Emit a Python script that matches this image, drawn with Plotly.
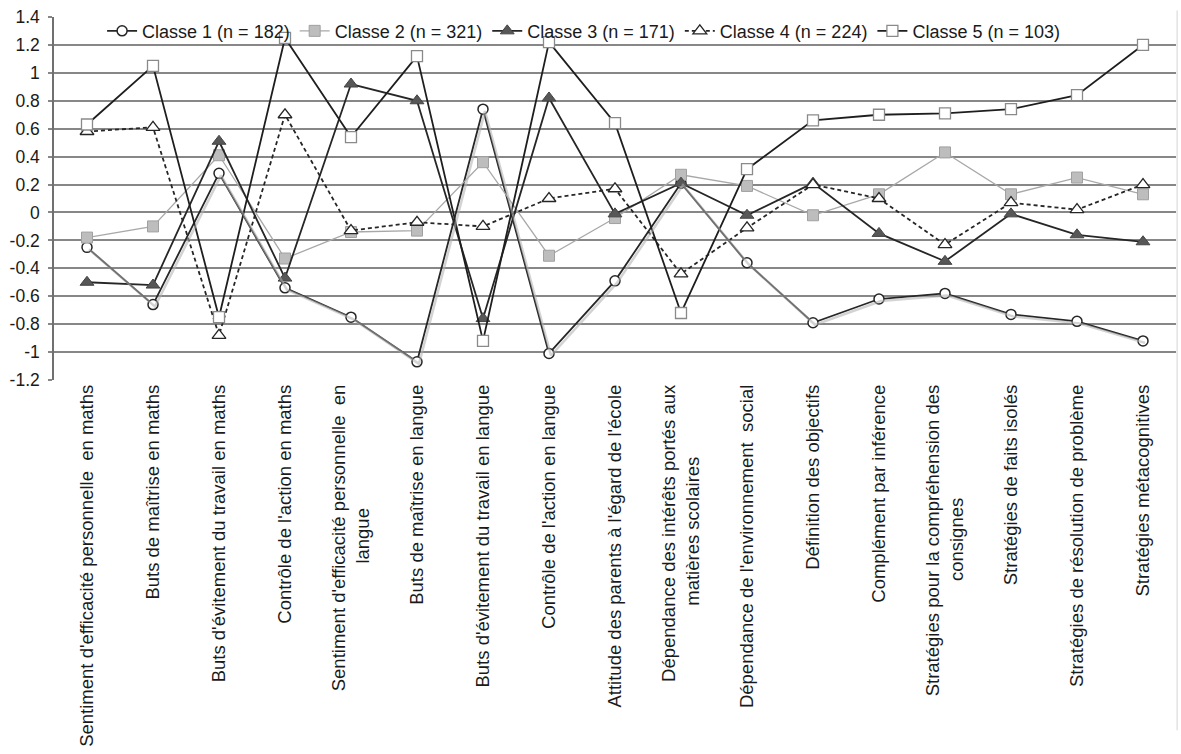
import plotly.graph_objects as go

NB = "\u00a0"

# Profils des classes latentes sur les 17 indicateurs (scores standardisés)
categories = [
    "Sentiment d'efficacité personnelle " + NB + "en maths",
    "Buts de maîtrise en maths",
    "Buts d'évitement du travail en maths",
    "Contrôle de l'action en maths",
    "Sentiment d'efficacité personnelle " + NB + "en<br>langue" + NB * 24,
    "Buts de maîtrise en langue",
    "Buts d'évitement du travail en langue",
    "Contrôle de l'action en langue",
    "Attitude des parents à l'égard de l'école",
    "Dépendance des intérêts portés aux<br>matières scolaires" + NB * 14,
    "Dépendance de l'environnement " + NB + "social",
    "Définition des objectifs",
    "Complément par inférence",
    "Stratégies pour la compréhension des<br>consignes" + NB * 22,
    "Stratégies de faits isolés",
    "Stratégies de résolution de problème",
    "Stratégies métacognitives",
]

classe1 = [-0.25, -0.66, 0.28, -0.54, -0.75, -1.07, 0.74, -1.01, -0.49, 0.21, -0.36,
           -0.79, -0.62, -0.58, -0.73, -0.78, -0.92]
classe2 = [-0.18, -0.10, 0.41, -0.33, -0.14, -0.13, 0.36, -0.31, -0.04, 0.27, 0.19,
           -0.02, 0.13, 0.43, 0.13, 0.25, 0.13]
classe3 = [-0.50, -0.52, 0.51, -0.47, 0.92, 0.80, -0.76, 0.82, -0.01, 0.21, -0.02,
           0.21, -0.15, -0.35, -0.01, -0.16, -0.21]
classe4 = [0.58, 0.61, -0.88, 0.70, -0.13, -0.07, -0.10, 0.10, 0.17, -0.44, -0.11,
           0.20, 0.10, -0.23, 0.07, 0.02, 0.20]
classe5 = [0.63, 1.05, -0.75, 1.25, 0.54, 1.12, -0.92, 1.22, 0.64, -0.72, 0.31,
           0.66, 0.70, 0.71, 0.74, 0.84, 1.20]

series_names = ["Classe 1 (n = 182)", "Classe 2 (n = 321)", "Classe 3 (n = 171)",
                "Classe 4 (n = 224)", "Classe 5 (n = 103)"]

y_ticks = [1.4, 1.2, 1, 0.8, 0.6, 0.4, 0.2, 0, -0.2, -0.4, -0.6, -0.8, -1, -1.2]

FONT = "Liberation Sans, Arial, sans-serif"
W, H = 1181, 754
ML, MR, MT, MB = 54, 5, 17, 374
n_cat = len(categories)
x_idx = list(range(n_cat))
X_RANGE = [-0.5, n_cat - 0.5]
Y_RANGE = [-1.2, 1.4]

# shadow offset of 2px expressed in axis units
px_x = (X_RANGE[1] - X_RANGE[0]) / (W - ML - MR)
px_y = (Y_RANGE[1] - Y_RANGE[0]) / (H - MT - MB)

fig = go.Figure()

# soft drop shadow under the Classe 1 line
fig.add_trace(go.Scatter(
    x=x_idx, y=classe1, xaxis="x2", yaxis="y2", mode="lines",
    line=dict(color="rgba(175,175,175,0.55)", width=2.5),
    showlegend=False, hoverinfo="skip"))

styles = [
    dict(line=dict(color="#262626", width=1.8),
         marker=dict(symbol="circle", size=10, color="white",
                     line=dict(color="#262626", width=1.5))),
    dict(line=dict(color="#a8a8a8", width=1.3),
         marker=dict(symbol="square", size=11, color="#bdbdbd",
                     line=dict(color="#a0a0a0", width=1))),
    dict(line=dict(color="#262626", width=1.8),
         marker=dict(symbol="triangle-up", size=12, color="#575757",
                     line=dict(color="#444444", width=1))),
    dict(line=dict(color="#262626", width=1.8, dash="4px,3px"),
         marker=dict(symbol="triangle-up", size=12, color="white",
                     line=dict(color="#262626", width=1.3))),
    dict(line=dict(color="#1e1e1e", width=1.8),
         marker=dict(symbol="square", size=11, color="white",
                     line=dict(color="#8a8a8a", width=1.3))),
]

for name, vals, st in zip(series_names, [classe1, classe2, classe3, classe4, classe5], styles):
    fig.add_trace(go.Scatter(x=x_idx, y=vals, name=name, mode="lines+markers",
                             line=st["line"], marker=st["marker"]))

# light frame edge at the right of the chart area
fig.add_shape(type="line", xref="paper", yref="paper", x0=1.001, x1=1.001,
              y0=1.018, y1=-0.965, line=dict(color="#d4d4d4", width=1))

fig.update_layout(
    width=W, height=H,
    margin=dict(l=ML, r=MR, t=MT, b=MB),
    paper_bgcolor="white", plot_bgcolor="white",
    font=dict(family=FONT, size=17, color="#1a1a1a"),
    showlegend=True,
    legend=dict(orientation="h", x=0.472, xanchor="center", y=0.961, yanchor="middle",
                bgcolor="rgba(255,255,255,0)", font=dict(size=18, family=FONT),
                itemwidth=30, tracegroupgap=0, traceorder="normal"),
    xaxis=dict(range=X_RANGE, tickmode="array",
               tickvals=x_idx, ticktext=categories, tickangle=-90,
               showgrid=False, zeroline=False, showline=False,
               ticks="", tickfont=dict(size=18.5, family=FONT, color="#1a1a1a")),
    yaxis=dict(range=Y_RANGE, tickmode="array", tickvals=y_ticks,
               ticktext=[f"{v:g}" for v in y_ticks],
               showgrid=True, gridcolor="#878787", gridwidth=1.5,
               zeroline=False, showline=True, linecolor="#707070", linewidth=1.5,
               ticks="outside", ticklen=4, tickcolor="#878787", tickwidth=1.5,
               ticklabelstandoff=5,
               tickfont=dict(size=17.5, family=FONT, color="#1a1a1a")),
    xaxis2=dict(overlaying="x", anchor="y2", visible=False,
                range=[X_RANGE[0] - 2 * px_x, X_RANGE[1] - 2 * px_x]),
    yaxis2=dict(overlaying="y", anchor="x2", visible=False,
                range=[Y_RANGE[0] + 2 * px_y, Y_RANGE[1] + 2 * px_y]),
)

fig.write_html("out.html")
